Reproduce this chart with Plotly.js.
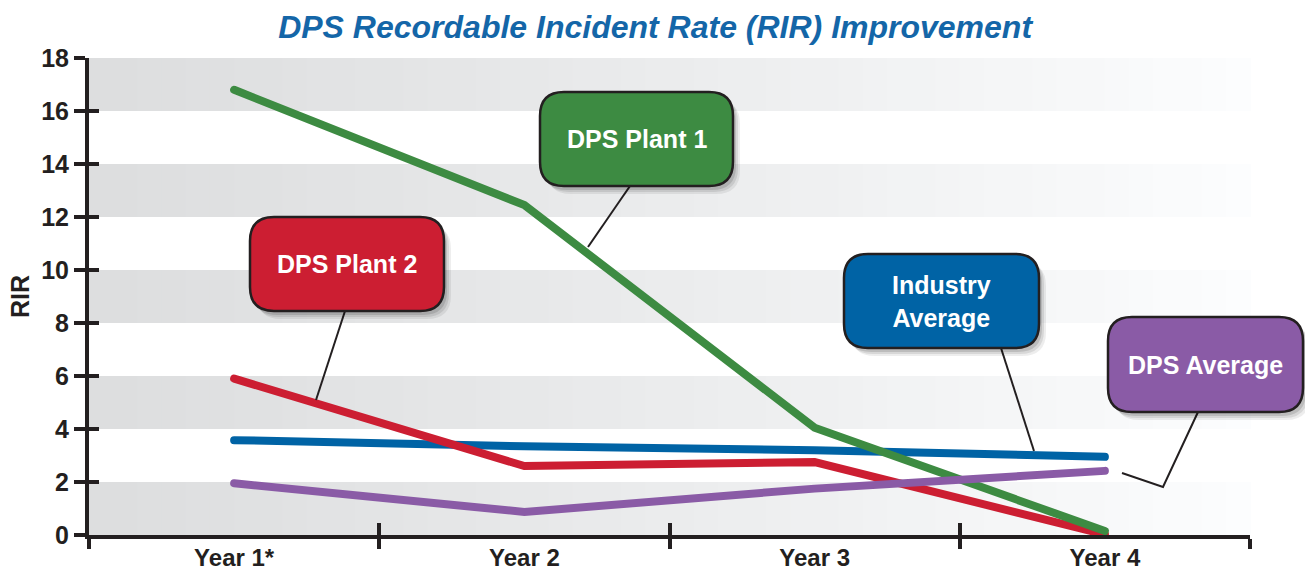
<!DOCTYPE html>
<html>
<head>
<meta charset="utf-8">
<script src="https://cdn.plot.ly/plotly-3.0.1.min.js"></script>
<style>
  html, body { margin: 0; padding: 0; background: #ffffff; }
  #chart { width: 1305px; height: 571px; }
  .js-line { stroke-linecap: round; }
</style>
</head>
<body>
<div id="chart"></div>
<script>
// ---- Data ----
const categories = ["Year 1*", "Year 2", "Year 3", "Year 4"];
const industryAverage = [3.58, 3.35, 3.2, 2.95];
const dpsPlant2 = [5.9, 2.6, 2.75, 0.02];
const dpsPlant1 = [16.8, 12.45, 4.05, 0.15];
const dpsAverage = [1.95, 0.87, 1.75, 2.42];
const seriesNames = ["Industry Average", "DPS Plant 2", "DPS Plant 1", "DPS Average"];
const seriesColors = ["#0063a5", "#cc1e32", "#3d8b42", "#8a5ba6"];
const yTickValues = [0, 2, 4, 6, 8, 10, 12, 14, 16, 18];

// ---- Layout geometry (pixels of the 1305x571 page) ----
const W = 1305, H = 571;
const M = { l: 89, r: 55, t: 58, b: 36 };
const plotW = W - M.l - M.r, plotH = H - M.t - M.b;
const px = v => (v - M.l) / plotW;          // page px -> paper x
const py = v => (H - M.b - v) / plotH;      // page px -> paper y

function roundRectPath(x0, y0, x1, y1, r) {
  const P = (x, y) => px(x).toFixed(5) + "," + py(y).toFixed(5);
  return "M" + P(x0 + r, y0) + " L" + P(x1 - r, y0) + " Q" + P(x1, y0) + " " + P(x1, y0 + r) +
         " L" + P(x1, y1 - r) + " Q" + P(x1, y1) + " " + P(x1 - r, y1) +
         " L" + P(x0 + r, y1) + " Q" + P(x0, y1) + " " + P(x0, y1 - r) +
         " L" + P(x0, y0 + r) + " Q" + P(x0, y0) + " " + P(x0 + r, y0) + " Z";
}

// ---- Traces ----
const traces = [industryAverage, dpsPlant2, dpsPlant1, dpsAverage].map((vals, i) => ({
  type: "scatter", mode: "lines", x: categories, y: vals, name: seriesNames[i],
  line: { color: seriesColors[i], width: 8 }, hoverinfo: "x+y+name"
}));
// empty trace so the overlay axes (crossing ticks) are drawn
traces.push({ type: "scatter", mode: "lines", x: [], y: [], xaxis: "x2", yaxis: "y2", showlegend: false, hoverinfo: "skip" });

// ---- Background bands with horizontal fade ----
const shapes = [];
const N = 48;
for (let b = 0; b < 18; b += 4) {
  for (let k = 0; k < N; k++) {
    const t = k / (N - 1);
    const g = Math.round(221 + (252 - 221) * Math.pow(t, 1.15));
    shapes.push({
      type: "rect", layer: "below", xref: "paper", yref: "y",
      x0: k / N, x1: (k + 1) / N + 0.001, y0: b, y1: b + 2,
      fillcolor: "rgb(" + g + "," + Math.min(255, g + 1) + "," + Math.min(255, g + 2) + ")", line: { width: 0 }
    });
  }
}

// ---- Callouts ----
const callouts = [
  { text: "DPS Plant 1", box: [540, 92, 733, 186], color: seriesColors[2],
    leader: [[630, 186], [588, 247]] },
  { text: "DPS Plant 2", box: [250, 217, 444, 311], color: seriesColors[1],
    leader: [[345, 311], [316, 400]] },
  { text: "Industry<br>Average", box: [844, 254, 1039, 348], color: seriesColors[0],
    leader: [[1001, 348], [1034, 451]] },
  { text: "DPS Average", box: [1108, 317, 1303, 412], color: seriesColors[3],
    leader: [[1198, 412], [1163, 487], [1122, 473]] }
];
const annotations = [];
callouts.forEach(c => {
  const pts = c.leader.map(p => px(p[0]).toFixed(5) + "," + py(p[1]).toFixed(5));
  shapes.push({ type: "path", xref: "paper", yref: "paper", layer: "above",
    path: "M" + pts.join(" L"), line: { color: "#231f20", width: 2 } });
});
callouts.forEach(c => {
  const [x0, y0, x1, y1] = c.box;
  [[7, 8, 0.07], [5, 6, 0.09], [3, 4, 0.12]].forEach(s => {
    shapes.push({ type: "path", xref: "paper", yref: "paper", layer: "above",
      path: roundRectPath(x0 + s[0], y0 + s[1], x1 + s[0], y1 + s[1], 24),
      fillcolor: "rgba(0,0,0," + s[2] + ")", line: { width: 0 } });
  });
  shapes.push({ type: "path", xref: "paper", yref: "paper", layer: "above",
    path: roundRectPath(x0, y0, x1, y1, 24),
    fillcolor: c.color, line: { color: "#231f20", width: 2.5 } });
  annotations.push({ xref: "paper", yref: "paper", x: px((x0 + x1) / 2), y: py((y0 + y1) / 2),
    xanchor: "center", yanchor: "middle", showarrow: false, text: c.text,
    font: { family: "Liberation Sans, Arial, sans-serif", size: 25, color: "#ffffff", weight: "bold" } });
});

const axisColor = "#231f20";
const layout = {
  width: W, height: H,
  margin: M,
  paper_bgcolor: "#ffffff", plot_bgcolor: "#ffffff",
  showlegend: false,
  title: {
    text: "DPS Recordable Incident Rate (RIR) Improvement",
    x: 0.502, xanchor: "center", y: 1 - 27 / H, yanchor: "middle",
    font: { family: "Liberation Sans, Arial, sans-serif", size: 32, color: "#1466a8", weight: "bold", style: "italic" }
  },
  xaxis: {
    type: "category", categoryorder: "array", categoryarray: categories,
    range: [-0.5, 3.5], tickson: "boundaries",
    showline: true, linecolor: axisColor, linewidth: 4,
    ticks: "outside", ticklen: 10, tickwidth: 4, tickcolor: axisColor,
    ticklabelstandoff: -2,
    showgrid: false, zeroline: false,
    tickfont: { family: "Liberation Sans, Arial, sans-serif", size: 24, color: axisColor, weight: "bold" }
  },
  yaxis: {
    range: [0, 18], tickmode: "array", tickvals: yTickValues,
    showline: true, linecolor: axisColor, linewidth: 4,
    ticks: "outside", ticklen: 11, tickwidth: 4, tickcolor: axisColor,
    showgrid: false, zeroline: false,
    tickfont: { family: "Liberation Sans, Arial, sans-serif", size: 25, color: axisColor, weight: "bold" },
    title: { text: "RIR", standoff: 5,
      font: { family: "Liberation Sans, Arial, sans-serif", size: 25, color: axisColor, weight: "bold" } }
  },
  xaxis2: {
    overlaying: "x", anchor: "y2", range: [-0.5, 3.5], tickmode: "array",
    tickvals: [-0.5, 0.5, 1.5, 2.5, 3.5], ticks: "inside", ticklen: 12, tickwidth: 4, tickcolor: axisColor,
    showticklabels: false, showline: false, showgrid: false, zeroline: false
  },
  yaxis2: {
    overlaying: "y", anchor: "x2", range: [0, 18], tickmode: "array", tickvals: yTickValues,
    ticks: "inside", ticklen: 10, tickwidth: 4, tickcolor: axisColor,
    showticklabels: false, showline: false, showgrid: false, zeroline: false
  },
  shapes: shapes,
  annotations: annotations
};

Plotly.newPlot("chart", traces, layout, { displayModeBar: false, staticPlot: true });
</script>
</body>
</html>
